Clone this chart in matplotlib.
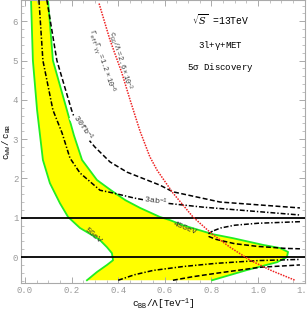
import numpy as np
import matplotlib
matplotlib.use('Agg')
import matplotlib.pyplot as plt
from matplotlib.ticker import MultipleLocator

plt.rcParams['font.family'] = ['Liberation Mono', 'DejaVu Sans']

# yellow region edges
left_x = [0.026, 0.034, 0.052, 0.077, 0.107, 0.150, 0.185, 0.236, 0.290, 0.322, 0.352, 0.373, 0.378, 0.352, 0.309, 0.266]
left_y = [6.54, 5.00, 3.74, 2.47, 1.88, 1.37, 1.02, 0.74, 0.55, 0.43, 0.25, 0.10, -0.08, -0.20, -0.38, -0.59]
right_x = [0.099, 0.120, 0.180, 0.210, 0.245, 0.309, 0.369, 0.430, 0.494, 0.579, 0.622, 0.678, 0.807, 0.893, 1.021, 1.094, 1.129, 1.124, 1.082, 0.953, 0.803]
right_y = [6.54, 5.00, 3.74, 3.10, 2.47, 1.96, 1.70, 1.45, 1.25, 1.02, 0.94, 0.81, 0.58, 0.48, 0.31, 0.23, 0.13, 0.00, -0.13, -0.33, -0.59]

# 30 fb^-1 contour (dashed)
fb30_x = [0.094, 0.137, 0.200, 0.215, 0.250, 0.300, 0.365, 0.438, 0.579, 0.635, 0.837, 1.18]
fb30_y = [6.54, 5.00, 3.74, 3.50, 3.15, 2.80, 2.42, 2.16, 1.83, 1.66, 1.40, 1.25]
# 3 ab^-1 contour (dash-dot)
ab3_x = [0.060, 0.077, 0.120, 0.159, 0.193, 0.236, 0.322, 0.378, 0.470, 0.560, 0.764, 1.18]
ab3_y = [6.54, 5.00, 3.74, 3.16, 2.52, 2.14, 1.70, 1.63, 1.50, 1.40, 1.27, 1.07]

# contours inside the lower wedge
loop_up_x = [1.18, 1.00, 0.90, 0.84, 0.805]
loop_up_y = [0.90, 0.86, 0.81, 0.74, 0.66]
loop_lo_x = [0.805, 0.787, 0.790, 0.820, 0.900, 1.000, 1.120, 1.180]
loop_lo_y = [0.66, 0.59, 0.52, 0.45, 0.34, 0.27, 0.22, 0.21]
low_dd_x = [0.40, 0.47, 0.55, 0.68, 0.82, 1.00, 1.18]
low_dd_y = [-0.59, -0.45, -0.34, -0.24, -0.16, -0.09, -0.06]
low_da_x = [0.635, 0.72, 0.824, 1.009, 1.18]
low_da_y = [-0.59, -0.50, -0.41, -0.26, -0.20]

# c_GG line (red dotted)
red_x = [0.318, 0.365, 0.415, 0.451, 0.494, 0.536, 0.567, 0.635, 0.721, 0.800, 0.880, 0.966, 1.060, 1.159]
red_y = [6.45, 5.52, 4.70, 4.00, 3.20, 2.55, 2.21, 1.63, 1.02, 0.60, 0.25, -0.08, -0.35, -0.59]

fig = plt.figure(figsize=(3.07, 3.11), dpi=100)
ax = fig.add_axes([21/307, 1 - 283/311, 284/307, 283/311])

ax.fill(np.concatenate([left_x, right_x[::-1]]), np.concatenate([left_y, right_y[::-1]]),
        color='#ffff00', lw=0, zorder=1)
ax.plot(left_x, left_y, color='#22ee22', lw=1.3, zorder=2)
ax.plot(right_x, right_y, color='#22ee22', lw=1.3, zorder=2)

ax.axhline(0, color='k', lw=1.3, zorder=3)
ax.axhline(1, color='k', lw=1.3, zorder=3)

dash = (0, (3.2, 1.6))
dashdot = (0, (3.2, 1.3, 0.9, 1.3))
ax.plot(fb30_x, fb30_y, color='k', lw=1.1, ls=dash, zorder=4)
ax.plot(ab3_x, ab3_y, color='k', lw=1.1, ls=dashdot, zorder=4)
ax.plot(loop_up_x, loop_up_y, color='k', lw=1.1, ls=dashdot, zorder=4)
ax.plot(loop_lo_x, loop_lo_y, color='k', lw=1.1, ls=dash, zorder=4)
ax.plot(low_dd_x, low_dd_y, color='k', lw=1.1, ls=dashdot, zorder=4)
ax.plot(low_da_x, low_da_y, color='k', lw=1.1, ls=dash, zorder=4)
ax.plot(red_x, red_y, color='#ee2222', lw=1.1, ls=(0, (1, 0.8)), zorder=4)

ax.set_xlim(-0.017, 1.2017)
ax.set_ylim(-0.66, 6.54)

gray = '#aaaaaa'
for s in ax.spines.values():
    s.set_color(gray)
    s.set_linewidth(0.8)
ax.xaxis.set_minor_locator(MultipleLocator(0.05))
ax.yaxis.set_minor_locator(MultipleLocator(0.2))
ax.tick_params(which='both', direction='in', top=True, right=True, color=gray,
               labelcolor='#999999', labelsize=6.5, pad=2)
ax.tick_params(which='major', length=4, width=0.7)
ax.tick_params(which='minor', length=2, width=0.5)
ax.set_xticks(np.arange(0, 1.21, 0.2))
ax.set_xticklabels(['0.0', '0.2', '0.4', '0.6', '0.8', '1.0', '1.2'])
ax.set_yticks(np.arange(0, 7, 1))
ax.set_yticklabels(['0', '1', '2', '3', '4', '5', '6'])

ax.set_xlabel(r'$\mathregular{c_{BB}/\Lambda[TeV^{-1}]}$', fontsize=6.8, labelpad=1.5)
ax.set_ylabel(r'$\mathregular{c_{WW}\,/\,c_{BB}}$', fontsize=6.5, labelpad=0)

# annotations
ax.text(0.84, 6.05, r'$\sqrt{S}$ =13TeV', fontsize=7, ha='center', va='center', math_fontfamily='dejavuserif')
ax.text(0.84, 5.38, r'3l+$\mathregular{\gamma}$+MET', fontsize=6.5, ha='center', va='center')
ax.text(0.84, 4.82, r'5$\mathregular{\sigma}$ Discovery', fontsize=6.5, ha='center', va='center')

ax.text(0.408, 5.0, r'$\mathregular{c_{GG}/\Lambda=2.6\times10^{-3}}$', fontsize=5,
        rotation=-73, ha='center', va='center', color='#333333')
ax.text(0.328, 4.99, r'$\mathregular{\Gamma_{eff}\Gamma_{\gamma\gamma}=1.2\times10^{-6}}$', fontsize=5,
        rotation=-71, ha='center', va='center', color='#333333')
ax.text(0.247, 3.3, r'$\mathregular{30fb^{-1}}$', fontsize=6, rotation=-55, ha='center', va='center',
        color='#333333', bbox=dict(fc='white', ec='none', pad=0.3), zorder=5)
ax.text(0.56, 1.42, r'$\mathregular{3ab^{-1}}$', fontsize=6, rotation=-8, ha='center', va='center',
        color='#333333', bbox=dict(fc='white', ec='none', pad=0.3), zorder=5)
ax.text(0.687, 0.72, '45GeV', fontsize=6, rotation=-22, ha='center', va='center', color='#333333', zorder=5)
ax.text(0.292, 0.54, '5GeV', fontsize=6, rotation=-42, ha='center', va='center', color='#333333', zorder=5)

fig.savefig('out.png', dpi=100)
